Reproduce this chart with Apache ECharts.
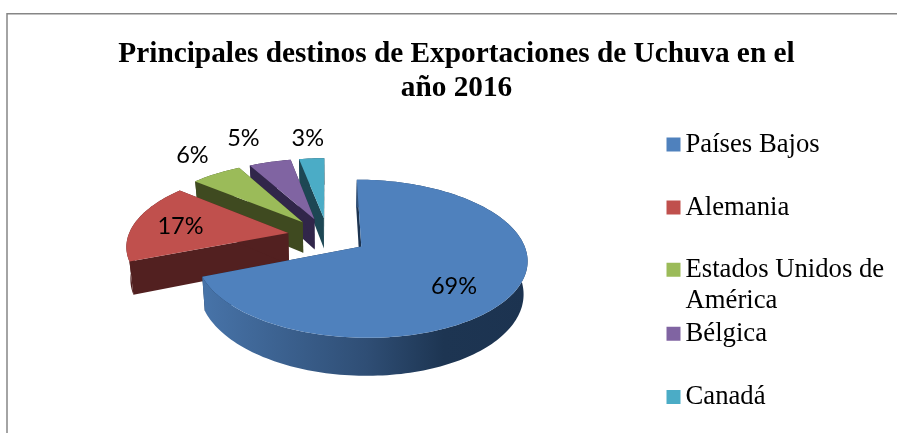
<!DOCTYPE html>
<html>
<head>
<meta charset="utf-8">
<style>html,body{margin:0;padding:0;background:#fff}#c{width:897px;height:433px}</style>
<script src="https://cdn.jsdelivr.net/npm/echarts@6/dist/echarts.min.js"></script>
</head>
<body>
<div id="c"></div>
<script>
const titleLines = ['Principales destinos de Exportaciones de Uchuva en el', 'año 2016'];
const categories = ['Países Bajos', 'Alemania', 'Estados Unidos de América', 'Bélgica', 'Canadá'];
const shares = [69, 17, 6, 5, 3];
const topColors = ['#4f81bd', '#c0504d', '#9bbb59', '#8064a2', '#4bacc6'];
const sideColors = ['#1c3350', '#522020', '#3f4a20', '#31264a', '#1d4754'];
// label anchor in pie-radius units relative to each slice's own apex (sideways, away from viewer)
const labelAnchors = [[0.51, -0.48], [-0.69, 0.09], [-0.85, 1.11], [-0.57, 1.40], [-0.13, 1.39]];

const PIE = {vx: 327.5, vy: 236, A: 160, B: 74, k: 0.15, explode: 0.25, depth: 31.5, shrink: 0.98};
const total = shares.reduce((a, b) => a + b, 0);
const starts = shares.map((_, i) => shares.slice(0, i).reduce((a, b) => a + b, 0) / total * Math.PI * 2);
const ends = shares.map((s, i) => starts[i] + s / total * Math.PI * 2);

function project(X, Y, low) {
  const p = 1 / (1 + PIE.k * Y);
  let x = PIE.vx + PIE.A * X * p;
  let y = PIE.vy - PIE.B * Y * p;
  if (low) {
    x = PIE.vx + (x - PIE.vx) * PIE.shrink;
    y = y + PIE.depth * p;
  }
  return [x, y];
}
function apexOf(i) {
  const m = (starts[i] + ends[i]) / 2;
  return [PIE.explode * Math.sin(m), PIE.explode * Math.cos(m)];
}
function rim(i, t, low) {
  const a = apexOf(i);
  return project(a[0] + Math.sin(t), a[1] + Math.cos(t), low);
}
function arc(i, low) {
  const pts = [];
  const n = Math.max(8, Math.round((ends[i] - starts[i]) * 40));
  for (let j = 0; j <= n; j++) pts.push(rim(i, starts[i] + (ends[i] - starts[i]) * j / n, low));
  return pts;
}

function renderSlice(i) {
  return function () {
    const a = apexOf(i);
    const apexTop = project(a[0], a[1], false);
    const apexLow = project(a[0], a[1], true);
    const top = arc(i, false);
    const low = arc(i, true);
    const wallFill = i === 0
      ? new echarts.graphic.LinearGradient(204, 0, 528, 0, [
          {offset: 0, color: '#4773a8'},
          {offset: 0.5, color: '#2f4e75'},
          {offset: 0.74, color: '#1d3552'},
          {offset: 1, color: sideColors[0]}
        ], true)
      : sideColors[i];
    const face = (t) => [apexTop, rim(i, t, false), rim(i, t, true), apexLow];
    const lab = labelAnchors[i];
    const lp = project(a[0] + lab[0], a[1] + lab[1], false);
    return {
      type: 'group',
      children: [
        {type: 'polygon', shape: {points: face(starts[i])}, style: {fill: sideColors[i]}},
        {type: 'polygon', shape: {points: face(ends[i])}, style: {fill: sideColors[i]}},
        {type: 'polygon', shape: {points: top.concat(low.slice().reverse())}, style: {fill: wallFill}},
        {type: 'polygon', shape: {points: [apexTop].concat(top)}, style: {fill: topColors[i]}},
        {type: 'text', style: {
          x: lp[0], y: lp[1], text: Math.round(shares[i] / total * 100) + '%',
          align: 'center', verticalAlign: 'middle',
          font: '23.5px Lato', fill: '#000'
        }}
      ]
    };
  };
}

const legendTops = [128.75, 191.75, 222.5, 318, 381.25];
const chart = echarts.init(document.getElementById('c'), null, {renderer: 'canvas'});
chart.setOption({
  animation: false,
  title: {
    text: titleLines.join('\n'),
    left: 451.5, top: 33, textAlign: 'center',
    textStyle: {fontFamily: 'Liberation Serif', fontWeight: 'bold', fontSize: 29.3, lineHeight: 33.5, color: '#000'}
  },
  legend: categories.map((name, i) => ({
    data: [name], left: 666.5, top: legendTops[i], orient: 'vertical', padding: 0,
    icon: 'rect', itemWidth: 14, itemHeight: 14, itemGap: 0, selectedMode: false,
    formatter: (s) => s === 'Estados Unidos de América' ? '\nEstados Unidos de\nAmérica' : s,
    textStyle: {fontFamily: 'Liberation Serif', fontSize: 26.7, lineHeight: 31.5, color: '#000'}
  })),
  graphic: [{
    type: 'rect', silent: true, z: -1,
    shape: {x: 7, y: 13.75, width: 1000, height: 500},
    style: {fill: '#fff', stroke: '#868686', lineWidth: 1.5}
  }],
  series: categories.map((name, i) => ({
    type: 'custom', name, coordinateSystem: 'none', silent: true,
    z: 10 + categories.length - i,
    itemStyle: {color: topColors[i]},
    data: [[shares[i]]],
    renderItem: renderSlice(i)
  }))
});
</script>
</body>
</html>
